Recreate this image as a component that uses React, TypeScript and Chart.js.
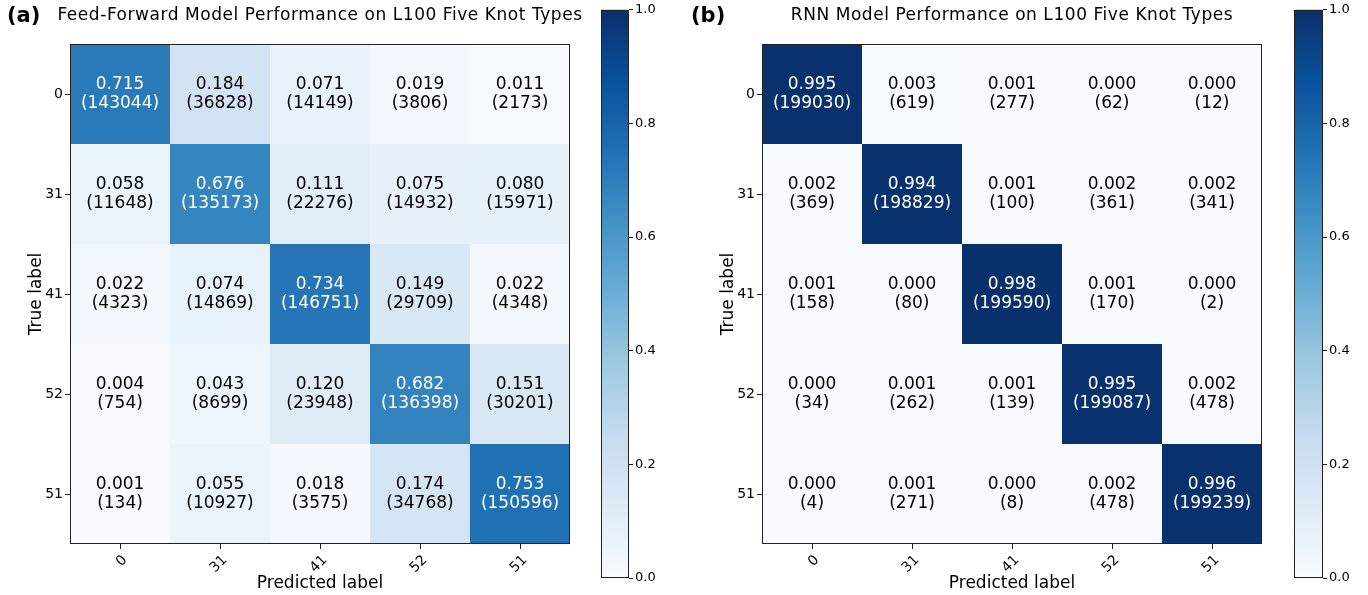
import React, { useEffect, useRef } from 'react';
import { Chart, registerables } from 'chart.js';

Chart.register(...registerables);
Chart.defaults.font.family = '"DejaVu Sans", sans-serif';
Chart.defaults.color = '#000';

const classLabels = ['0', '31', '41', '52', '51'];

const ffFractions = [
  [0.715, 0.184, 0.071, 0.019, 0.011],
  [0.058, 0.676, 0.111, 0.075, 0.080],
  [0.022, 0.074, 0.734, 0.149, 0.022],
  [0.004, 0.043, 0.120, 0.682, 0.151],
  [0.001, 0.055, 0.018, 0.174, 0.753],
];
const ffCounts = [
  [143044, 36828, 14149, 3806, 2173],
  [11648, 135173, 22276, 14932, 15971],
  [4323, 14869, 146751, 29709, 4348],
  [754, 8699, 23948, 136398, 30201],
  [134, 10927, 3575, 34768, 150596],
];
const rnnFractions = [
  [0.995, 0.003, 0.001, 0.000, 0.000],
  [0.002, 0.994, 0.001, 0.002, 0.002],
  [0.001, 0.000, 0.998, 0.001, 0.000],
  [0.000, 0.001, 0.001, 0.995, 0.002],
  [0.000, 0.001, 0.000, 0.002, 0.996],
];
const rnnCounts = [
  [199030, 619, 277, 62, 12],
  [369, 198829, 100, 361, 341],
  [158, 80, 199590, 170, 2],
  [34, 262, 139, 199087, 478],
  [4, 271, 8, 478, 199239],
];
const colorbarTicks = [0, 0.2, 0.4, 0.6, 0.8, 1.0];

const BLUES = ['#f7fbff', '#deebf7', '#c6dbef', '#9ecae1', '#6baed6', '#4292c6', '#2171b5', '#08519c', '#08306b'];

function hexToRgb(h: string) {
  const n = parseInt(h.slice(1), 16);
  return [(n >> 16) & 255, (n >> 8) & 255, n & 255];
}
function blues(t: number) {
  const v = Math.max(0, Math.min(1, t)) * (BLUES.length - 1);
  const i = Math.min(Math.floor(v), BLUES.length - 2);
  const f = v - i;
  const a = hexToRgb(BLUES[i]);
  const b = hexToRgb(BLUES[i + 1]);
  const c = a.map((x, k) => Math.round(x + (b[k] - x) * f));
  return `rgb(${c[0]},${c[1]},${c[2]})`;
}

const FONT = '"DejaVu Sans", sans-serif';

function Heatmap(props: { fractions: number[][]; counts: number[][]; title: string; left: number }) {
  const ref = useRef<HTMLCanvasElement>(null);
  useEffect(() => {
    const { fractions, counts, title } = props;
    const points: any[] = [];
    fractions.forEach((row, r) =>
      row.forEach((v, c) => points.push({ x: classLabels[c], y: classLabels[r], v, n: counts[r][c] }))
    );
    const cellPlugin = {
      id: 'cells',
      beforeDatasetsDraw(chart: any) {
        const { ctx, chartArea, scales } = chart;
        const x = scales.x;
        const y = scales.y;
        const w = Math.abs(x.getPixelForValue(1) - x.getPixelForValue(0));
        const h = Math.abs(y.getPixelForValue(1) - y.getPixelForValue(0));
        const meta = chart.getDatasetMeta(0);
        ctx.save();
        meta.data.forEach((el: any, i: number) => {
          ctx.fillStyle = blues(points[i].v);
          ctx.fillRect(el.x - w / 2, el.y - h / 2, w, h);
        });
        ctx.font = `17px ${FONT}`;
        ctx.textAlign = 'center';
        ctx.textBaseline = 'middle';
        meta.data.forEach((el: any, i: number) => {
          const p = points[i];
          ctx.fillStyle = p.v > 0.5 ? '#ffffff' : '#000000';
          ctx.fillText(p.v.toFixed(3), el.x, el.y - 9.5);
          ctx.fillText(`(${p.n})`, el.x, el.y + 9.5);
        });
        ctx.strokeStyle = '#222';
        ctx.lineWidth = 1;
        ctx.strokeRect(
          Math.round(chartArea.left) + 0.5,
          Math.round(chartArea.top) + 0.5,
          Math.round(chartArea.right - chartArea.left) - 1,
          Math.round(chartArea.bottom - chartArea.top) - 1
        );
        // title, centred over the plot area
        ctx.fillStyle = '#000';
        ctx.font = `17px ${FONT}`;
        (ctx as any).letterSpacing = '0.55px';
        ctx.textAlign = 'center';
        ctx.textBaseline = 'middle';
        ctx.fillText(title, (chartArea.left + chartArea.right) / 2, 15.5);
        (ctx as any).letterSpacing = '0px';
        ctx.restore();
      },
    };
    const chart = new Chart(ref.current!, {
      type: 'scatter',
      data: { datasets: [{ data: points, pointRadius: 0, pointHoverRadius: 0 }] },
      options: {
        responsive: false,
        animation: false,
        events: [],
        layout: { padding: { left: 0, right: 20, top: 44, bottom: 0 } },
        plugins: {
          legend: { display: false },
          tooltip: { enabled: false },
          title: { display: false },
        },
        scales: {
          x: {
            type: 'category',
            labels: classLabels,
            offset: true,
            position: 'bottom',
            grid: { display: true, drawOnChartArea: false, drawTicks: true, tickLength: 5, offset: false, color: '#222' },
            border: { display: false },
            ticks: { minRotation: 45, maxRotation: 45, font: { size: 14 }, color: '#000', padding: 3, labelOffset: 5 },
            title: { display: true, text: 'Predicted label', font: { size: 17 }, color: '#000', padding: { top: 0, bottom: 1 } },
            afterFit: (s: any) => { s.height = 51; },
          },
          y: {
            type: 'category',
            labels: classLabels,
            offset: true,
            position: 'left',
            grid: { display: true, drawOnChartArea: false, drawTicks: true, tickLength: 5, offset: false, color: '#222' },
            border: { display: false },
            ticks: { font: { size: 14 }, color: '#000', padding: 2 },
            title: { display: true, text: 'True label', font: { size: 17 }, color: '#000', padding: { top: 26, bottom: 0 } },
            afterFit: (s: any) => { s.width = 70; },
          },
        },
      } as any,
      plugins: [cellPlugin],
    });
    return () => chart.destroy();
  }, []);
  return (
    <canvas
      ref={ref}
      width={590}
      height={595}
      style={{ position: 'absolute', left: props.left, top: 0, width: 590, height: 595 }}
    />
  );
}

function Colorbar(props: { left: number; width: number; padLeft: number; axisWidth: number }) {
  const ref = useRef<HTMLCanvasElement>(null);
  useEffect(() => {
    const gradPlugin = {
      id: 'grad',
      beforeDatasetsDraw(chart: any) {
        const { ctx, chartArea, scales } = chart;
        const y = scales.y;
        const y0 = y.getPixelForValue(0);
        const y1 = y.getPixelForValue(1);
        const g = ctx.createLinearGradient(0, y0, 0, y1);
        BLUES.forEach((c, i) => g.addColorStop(i / (BLUES.length - 1), c));
        ctx.save();
        ctx.fillStyle = g;
        ctx.fillRect(chartArea.left, chartArea.top, chartArea.right - chartArea.left, chartArea.bottom - chartArea.top);
        ctx.strokeStyle = '#222';
        ctx.lineWidth = 1;
        ctx.strokeRect(
          Math.round(chartArea.left) + 0.5,
          Math.round(chartArea.top) + 0.5,
          Math.round(chartArea.right - chartArea.left) - 1,
          Math.round(chartArea.bottom - chartArea.top) - 1
        );
        ctx.restore();
      },
    };
    const chart = new Chart(ref.current!, {
      type: 'scatter',
      data: { datasets: [] },
      options: {
        responsive: false,
        animation: false,
        events: [],
        layout: { padding: { left: props.padLeft, right: 0, top: 9, bottom: 17 } },
        plugins: { legend: { display: false }, tooltip: { enabled: false } },
        scales: {
          x: { display: false },
          y: {
            position: 'right',
            min: 0,
            max: 1,
            afterBuildTicks: (s: any) => { s.ticks = colorbarTicks.map((v) => ({ value: v })); },
            ticks: { callback: (v: any) => Number(v).toFixed(1), font: { size: 13 }, color: '#000', padding: 2 },
            grid: { display: true, drawOnChartArea: false, drawTicks: true, tickLength: 4, color: '#222' },
            border: { display: false },
            afterFit: (s: any) => { s.width = props.axisWidth; },
          },
        },
      } as any,
      plugins: [gradPlugin],
    });
    return () => chart.destroy();
  }, []);
  return (
    <canvas
      ref={ref}
      width={props.width}
      height={595}
      style={{ position: 'absolute', left: props.left, top: 0, width: props.width, height: 595 }}
    />
  );
}

const panelLabelStyle: React.CSSProperties = {
  position: 'absolute',
  top: 3,
  fontFamily: FONT,
  fontWeight: 'bold',
  fontSize: 21,
  lineHeight: '24px',
  color: '#000',
};

export default function App() {
  return (
    <div style={{ position: 'absolute', left: 0, top: 0, width: 1368, height: 595, background: '#fff', overflow: 'hidden' }}>
      <Heatmap fractions={ffFractions} counts={ffCounts} title="Feed-Forward Model Performance on L100 Five Knot Types" left={0} />
      <Colorbar left={590} width={94} padLeft={11} axisWidth={55} />
      <Heatmap fractions={rnnFractions} counts={rnnCounts} title="RNN Model Performance on L100 Five Knot Types" left={692} />
      <Colorbar left={1282} width={86} padLeft={12} axisWidth={45} />
      <div style={{ ...panelLabelStyle, left: 7 }}>(a)</div>
      <div style={{ ...panelLabelStyle, left: 691 }}>(b)</div>
    </div>
  );
}
